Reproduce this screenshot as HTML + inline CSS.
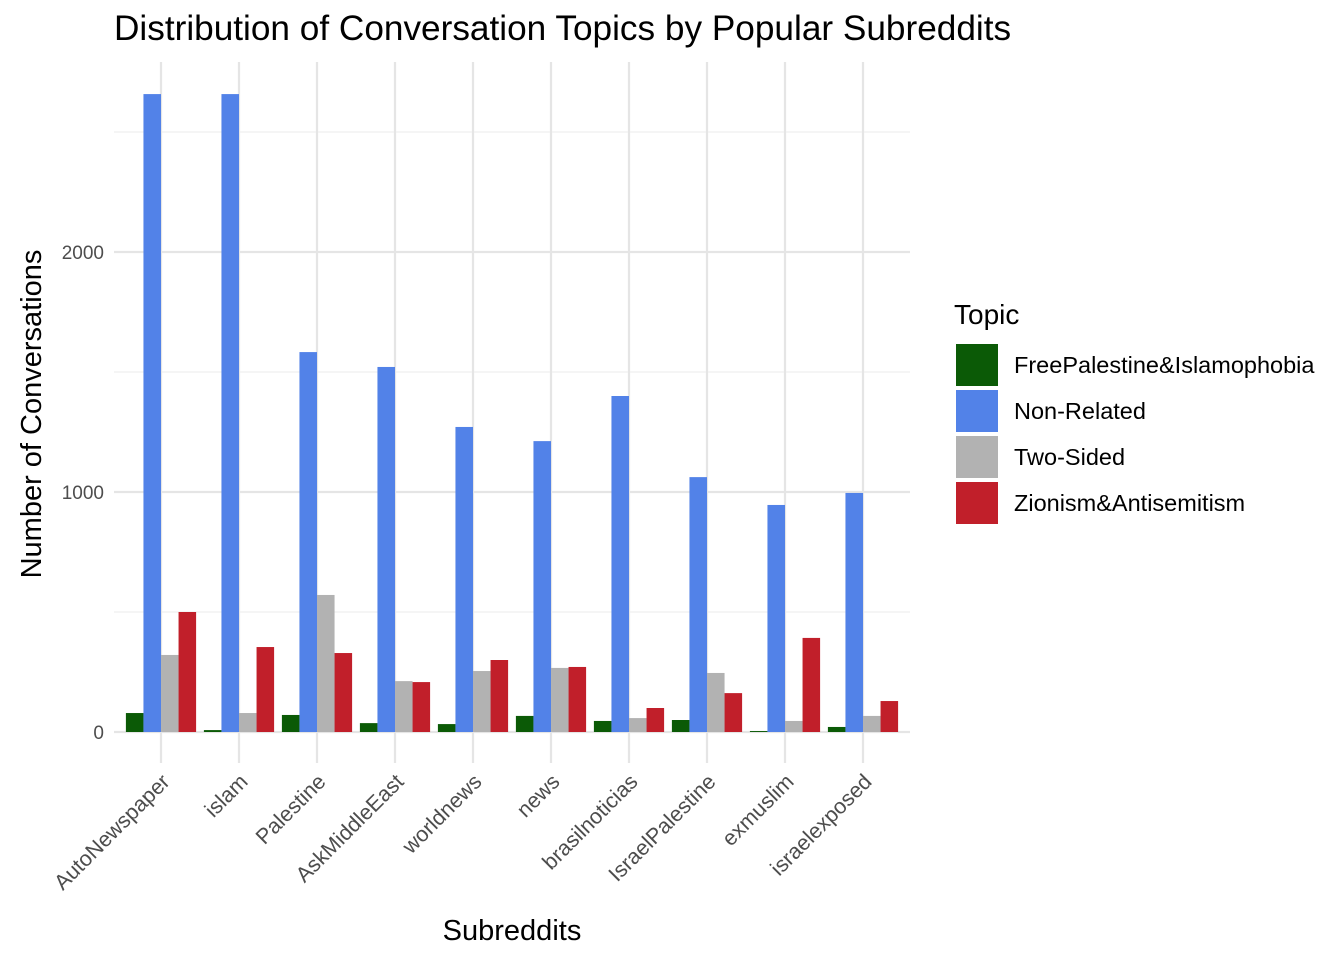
<!DOCTYPE html>
<html><head><meta charset="utf-8"><style>body{margin:0;background:#fff}svg{display:block;font-family:"Liberation Sans",Arial,sans-serif}</style></head><body>
<svg width="1344" height="960" xmlns="http://www.w3.org/2000/svg">
<rect width="1344" height="960" fill="#fff"/>
<g stroke="#ebebeb" stroke-width="1.1">
<line x1="114" x2="910" y1="612" y2="612"/><line x1="114" x2="910" y1="372" y2="372"/><line x1="114" x2="910" y1="132" y2="132"/>
</g>
<g stroke="#e5e5e5" stroke-width="2.2">
<line x1="114" x2="910" y1="732" y2="732"/><line x1="114" x2="910" y1="492" y2="492"/><line x1="114" x2="910" y1="252" y2="252"/>
<line x1="161" x2="161" y1="62" y2="763"/><line x1="239" x2="239" y1="62" y2="763"/><line x1="317" x2="317" y1="62" y2="763"/><line x1="395" x2="395" y1="62" y2="763"/><line x1="473" x2="473" y1="62" y2="763"/><line x1="551" x2="551" y1="62" y2="763"/><line x1="629" x2="629" y1="62" y2="763"/><line x1="707" x2="707" y1="62" y2="763"/><line x1="785" x2="785" y1="62" y2="763"/><line x1="863" x2="863" y1="62" y2="763"/>
</g>
<g transform="translate(0,732) scale(1,-1)">
<g fill="#0b5a06">
<rect x="125.9" y="0" width="17.55" height="18.96"/><rect x="203.9" y="0" width="17.55" height="1.92"/><rect x="281.9" y="0" width="17.55" height="17.04"/><rect x="359.9" y="0" width="17.55" height="8.88"/><rect x="437.9" y="0" width="17.55" height="7.92"/><rect x="515.9" y="0" width="17.55" height="16.08"/><rect x="593.9" y="0" width="17.55" height="11.04"/><rect x="671.9" y="0" width="17.55" height="12"/><rect x="749.9" y="0" width="17.55" height="0.96"/><rect x="827.9" y="0" width="17.55" height="5.04"/>
</g>
<g fill="#5282e8">
<rect x="143.45" y="0" width="17.55" height="637.92"/><rect x="221.45" y="0" width="17.55" height="637.92"/><rect x="299.45" y="0" width="17.55" height="379.92"/><rect x="377.45" y="0" width="17.55" height="365.04"/><rect x="455.45" y="0" width="17.55" height="305.04"/><rect x="533.45" y="0" width="17.55" height="290.88"/><rect x="611.45" y="0" width="17.55" height="336"/><rect x="689.45" y="0" width="17.55" height="254.88"/><rect x="767.45" y="0" width="17.55" height="227.04"/><rect x="845.45" y="0" width="17.55" height="239.04"/>
</g>
<g fill="#b2b2b2">
<rect x="161" y="0" width="17.55" height="77.04"/><rect x="239" y="0" width="17.55" height="18.96"/><rect x="317" y="0" width="17.55" height="137.04"/><rect x="395" y="0" width="17.55" height="50.88"/><rect x="473" y="0" width="17.55" height="60.96"/><rect x="551" y="0" width="17.55" height="64.08"/><rect x="629" y="0" width="17.55" height="13.92"/><rect x="707" y="0" width="17.55" height="59.04"/><rect x="785" y="0" width="17.55" height="11.04"/><rect x="863" y="0" width="17.55" height="16.08"/>
</g>
<g fill="#c11f2a">
<rect x="178.55" y="0" width="17.55" height="120"/><rect x="256.55" y="0" width="17.55" height="84.96"/><rect x="334.55" y="0" width="17.55" height="78.96"/><rect x="412.55" y="0" width="17.55" height="49.92"/><rect x="490.55" y="0" width="17.55" height="72"/><rect x="568.55" y="0" width="17.55" height="65.04"/><rect x="646.55" y="0" width="17.55" height="24"/><rect x="724.55" y="0" width="17.55" height="38.88"/><rect x="802.55" y="0" width="17.55" height="94.08"/><rect x="880.55" y="0" width="17.55" height="30.96"/>
</g>
</g>
<g font-size="19" fill="#4d4d4d" text-anchor="end">
<text x="104" y="739">0</text><text x="104" y="499">1000</text><text x="104" y="259">2000</text>
</g>
<g font-size="21.5" fill="#4d4d4d" text-anchor="end">
<text transform="translate(171,783) rotate(-45)">AutoNewspaper</text>
<text transform="translate(249,783) rotate(-45)">islam</text>
<text transform="translate(327,783) rotate(-45)">Palestine</text>
<text transform="translate(405,783) rotate(-45)">AskMiddleEast</text>
<text transform="translate(483,783) rotate(-45)">worldnews</text>
<text transform="translate(561,783) rotate(-45)">news</text>
<text transform="translate(639,783) rotate(-45)">brasilnoticias</text>
<text transform="translate(717,783) rotate(-45)">IsraelPalestine</text>
<text transform="translate(795,783) rotate(-45)">exmuslim</text>
<text transform="translate(873,783) rotate(-45)">israelexposed</text>
</g>
<text x="512" y="940" font-size="29" text-anchor="middle" fill="#000">Subreddits</text>
<text transform="translate(41,414) rotate(-90)" font-size="29" text-anchor="middle" fill="#000">Number of Conversations</text>
<text x="114" y="40" font-size="35.2" fill="#000">Distribution of Conversation Topics by Popular Subreddits</text>
<text x="954" y="324" font-size="28" fill="#000">Topic</text>
<rect x="956" y="344" width="42" height="42" fill="#0b5a06"/><rect x="956" y="390" width="42" height="42" fill="#5282e8"/><rect x="956" y="436" width="42" height="42" fill="#b2b2b2"/><rect x="956" y="482" width="42" height="42" fill="#c11f2a"/>
<g font-size="23.5" fill="#000">
<text x="1014" y="373">FreePalestine&amp;Islamophobia</text><text x="1014" y="419">Non-Related</text><text x="1014" y="465">Two-Sided</text><text x="1014" y="511">Zionism&amp;Antisemitism</text>
</g>
</svg>
</body></html>
